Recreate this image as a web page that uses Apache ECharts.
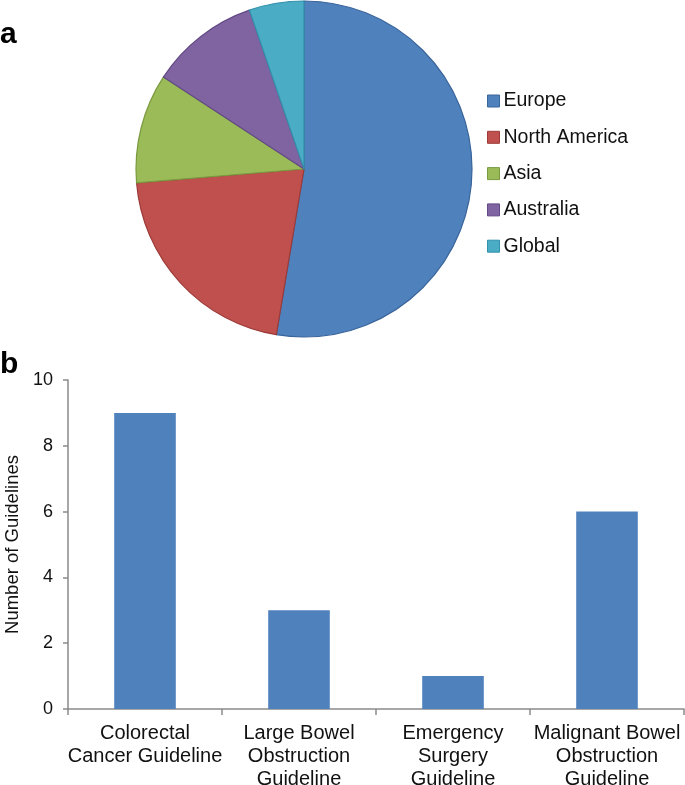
<!DOCTYPE html>
<html><head><meta charset="utf-8">
<script src="https://cdn.jsdelivr.net/npm/echarts@6/dist/echarts.min.js"></script>
<style>html,body{margin:0;padding:0;background:#fff}#c{width:685px;height:785px}</style>
</head><body><div id="c"></div>
<script>
const regions = ['Europe', 'North America', 'Asia', 'Australia', 'Global'];
const regionCounts = [10, 4, 2, 2, 1];
const regionColors = ['#4f81bd', '#c0504d', '#9bbb59', '#8064a2', '#4bacc6'];
const regionBorders = ['#3a659b', '#9c3b38', '#7a9a40', '#634a85', '#3391ab'];
const categories = ['Colorectal\nCancer Guideline', 'Large Bowel\nObstruction\nGuideline', 'Emergency\nSurgery\nGuideline', 'Malignant Bowel\nObstruction\nGuideline'];
const guidelineCounts = [9, 3, 1, 6];
const yTicks = [0, 2, 4, 6, 8, 10];

const font = 'Liberation Sans, Arial, Helvetica, sans-serif';
const chart = echarts.init(document.getElementById('c'), null, {renderer: 'canvas'});
chart.setOption({
  animation: false,
  textStyle: {fontFamily: font},
  legend: {
    orient: 'vertical', left: 482, top: 86, itemGap: 16.3, itemWidth: 12, itemHeight: 12,
    icon: 'rect',
    textStyle: {fontSize: 19.5, color: '#111', fontFamily: font, padding: [0, 0, 0, -1]},
    data: regions.map((r, i) => ({name: r, itemStyle: {color: regionColors[i], borderColor: regionBorders[i], borderWidth: 1}}))
  },
  graphic: [
    {type: 'text', left: 0, top: 20, style: {text: 'a', font: 'bold 30px ' + font, fill: '#000'}},
    {type: 'text', left: 0, top: 350, style: {text: 'b', font: 'bold 30px ' + font, fill: '#000'}}
  ],
  grid: {left: 68, right: 1, top: 380, bottom: 76, outerBoundsMode: 'none', containLabel: false},
  xAxis: {
    type: 'category', data: categories,
    axisLine: {lineStyle: {color: '#8a8a8a', width: 1.5}},
    axisTick: {show: true, alignWithLabel: false, length: 6, lineStyle: {color: '#8a8a8a', width: 1.5}},
    axisLabel: {fontSize: 20, color: '#111', lineHeight: 23, margin: 13, interval: 0, fontFamily: font}
  },
  yAxis: {
    type: 'value', min: 0, max: 10, interval: 2,
    name: 'Number of Guidelines', nameLocation: 'middle', nameGap: 37, nameRotate: 90,
    nameTextStyle: {fontSize: 18.5, color: '#111', fontFamily: font},
    axisLine: {show: true, lineStyle: {color: '#8a8a8a', width: 1.5}},
    axisTick: {show: true, length: 5, lineStyle: {color: '#8a8a8a', width: 1.5}},
    splitLine: {show: false},
    axisLabel: {fontSize: 18, color: '#111', margin: 15, fontFamily: font,
      formatter: v => yTicks.includes(v) ? String(v) : ''}
  },
  series: [
    {
      type: 'pie', center: [304, 169], radius: 168, startAngle: 90, clockwise: true,
      label: {show: false}, labelLine: {show: false},
      data: regions.map((r, i) => ({name: r, value: regionCounts[i],
        itemStyle: {color: regionColors[i], borderColor: regionBorders[i], borderWidth: 1.2}}))
    },
    {
      type: 'bar', data: guidelineCounts, barWidth: '40%',
      itemStyle: {color: '#4f81bd'}
    }
  ]
});
</script></body></html>
